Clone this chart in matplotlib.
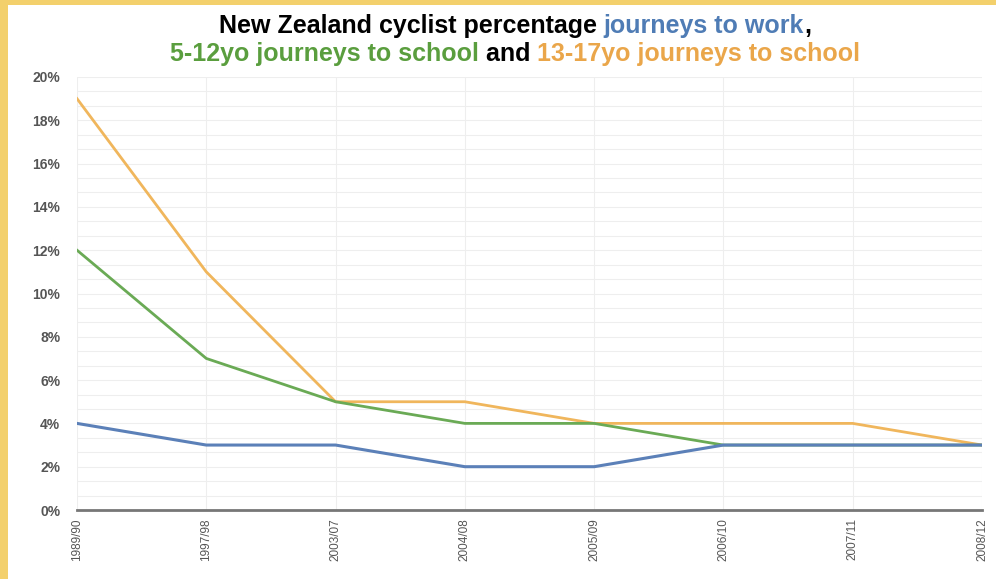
import matplotlib
matplotlib.use("Agg")
import matplotlib.pyplot as plt
import matplotlib.patches as mpatches
import numpy as np

periods = ["1989/90", "1997/98", "2003/07", "2004/08", "2005/09", "2006/10", "2007/11", "2008/12"]
work = [4, 3, 3, 2, 2, 3, 3, 3]
school_5_12 = [12, 7, 5, 4, 4, 3, 3, 3]
school_13_17 = [19, 11, 5, 5, 4, 4, 4, 3]

BLUE = "#5b80b8"
GREEN = "#6aaa55"
ORANGE = "#f0b65c"
T_BLUE = "#4f7cb5"
T_GREEN = "#5a9e3e"
T_ORANGE = "#eaa64a"

plt.rcParams["font.family"] = ["Liberation Sans", "DejaVu Sans"]

W, H = 996, 579
fig = plt.figure(figsize=(W / 100, H / 100), dpi=100)
fig.patch.set_facecolor("#f3d06c")
# white card inside the yellow frame
fig.patches.append(mpatches.Rectangle((8 / W, 0), 1, 1 - 5 / H, transform=fig.transFigure,
                                      facecolor="white", edgecolor="none", zorder=-5))

ax = fig.add_axes([77 / W, 1 - 510 / H, (982 - 77) / W, (510 - 77) / H])
ax.set_zorder(2)
ax.set_facecolor("white")
x = np.arange(len(periods))
ax.plot(x, school_13_17, color=ORANGE, lw=2, zorder=3)
ax.plot(x, school_5_12, color=GREEN, lw=2, zorder=4)
ax.plot(x, work, color=BLUE, lw=2.2, zorder=5)

ax.set_xlim(0, len(periods) - 1)
ax.set_ylim(0, 20)
ax.set_yticks(np.arange(0, 21, 2))
ax.set_yticklabels([f"{v}%" for v in range(0, 21, 2)])
ax.set_yticks(np.linspace(0, 20, 31), minor=True)
ax.set_xticks(x)
ax.set_xticklabels(periods, rotation=90, va="top")
ax.grid(True, which="both", axis="y", color="#eeeeee", lw=0.8)
ax.grid(True, axis="x", color="#eeeeee", lw=0.8)
for s in ["top", "right", "left"]:
    ax.spines[s].set_visible(False)
ax.spines["bottom"].set_color("#777777")
ax.spines["bottom"].set_linewidth(2)
ax.tick_params(axis="both", which="both", length=0, labelcolor="#555555")
ax.tick_params(axis="y", pad=12, labelsize=10)
ax.tick_params(axis="x", pad=6, labelsize=8.5)
for lab in ax.get_yticklabels():
    lab.set_fontweight("bold")

# multi-coloured title
lines = [
    [("New Zealand cyclist percentage ", "black"), ("journeys to work", T_BLUE), (",", "black")],
    [("5-12yo journeys to school", T_GREEN), (" and ", "black"), ("13-17yo journeys to school", T_ORANGE)],
]
renderer = fig.canvas.get_renderer()
ys = [1 - 26 / H, 1 - 54 / H]
for parts, yy in zip(lines, ys):
    texts = []
    widths = []
    for s, c in parts:
        t = fig.text(0, yy, s, color=c, fontsize=18, fontweight="bold", va="center", ha="left")
        texts.append(t)
        widths.append(t.get_window_extent(renderer).width)
    total = sum(widths)
    x0 = (515 - total / 2) / W
    for t, w in zip(texts, widths):
        t.set_x(x0)
        x0 += w / W

fig.savefig("out.png", dpi=100)
